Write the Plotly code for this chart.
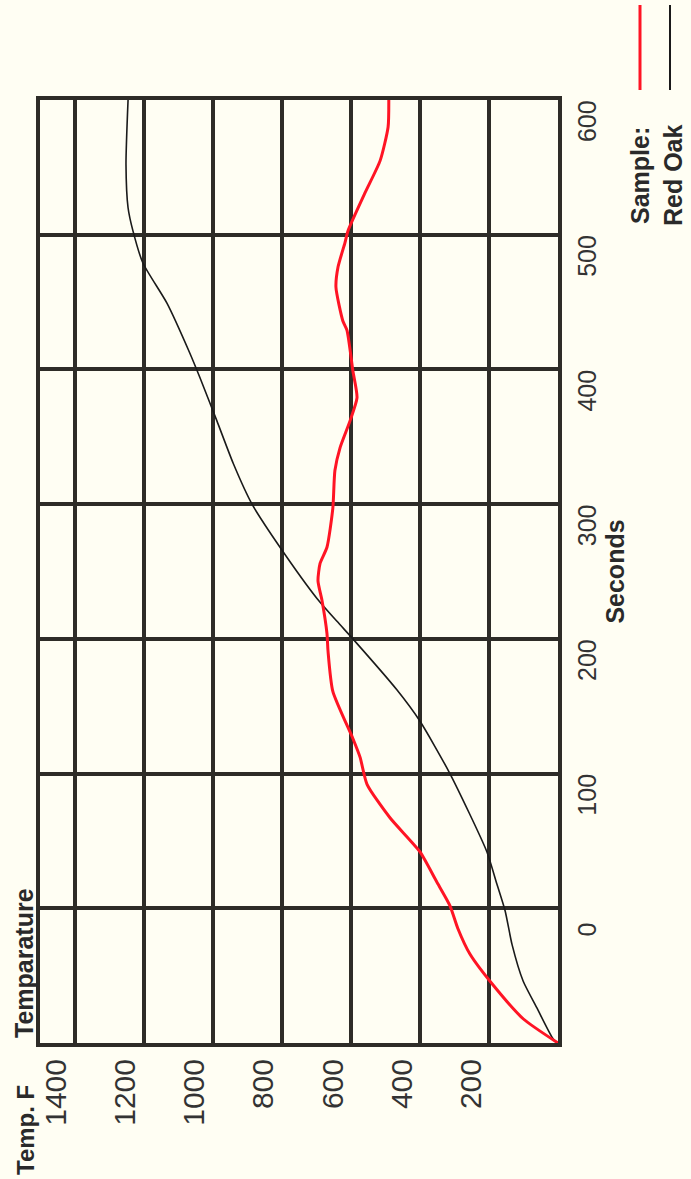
import plotly.graph_objects as go

# Red Oak (black) curve: seconds vs temperature (F)
oak_seconds = [-100, -97, -74, -54, -27, -2, 18, 42, 100, 139, 162, 200, 213, 230, 268, 300, 330, 362, 394, 412, 449, 479, 503, 520, 552, 600]
oak_temp =    [0, 14, 61, 101, 133, 153, 177, 206, 313, 400, 466, 594, 640, 698, 805, 886, 940, 988, 1037, 1066, 1132, 1202, 1231, 1245, 1251, 1245]

# Sample (red) curve
sample_seconds = [-100, -82, -57, -34, -15, 2, 20, 42, 67, 92, 112, 126, 161, 191, 204, 228, 243, 256, 268, 297, 325, 342, 362, 379, 399, 429, 436, 461, 476, 494, 503, 531, 555, 580, 600]
sample_temp =    [0, 101, 188, 255, 290, 313, 352, 400, 486, 553, 573, 594, 652, 666, 669, 683, 695, 689, 669, 652, 646, 631, 602, 582, 594, 611, 623, 643, 637, 617, 608, 559, 515, 492, 490]

temp_ticks = [200, 400, 600, 800, 1000, 1200, 1400]
sec_ticks = [0, 100, 200, 300, 400, 500, 600]

FONT = "Liberation Sans, Arial, sans-serif"
GRID = "#2e2c27"
BG = "#fffef3"

fig = go.Figure()
fig.add_trace(go.Scatter(x=oak_temp, y=oak_seconds, mode="lines", name="Red Oak",
                         line=dict(color="#1a1a1a", width=1.6, shape="spline", smoothing=0.6)))
fig.add_trace(go.Scatter(x=sample_temp, y=sample_seconds, mode="lines", name="Sample:",
                         line=dict(color="#ff1424", width=3, shape="spline", smoothing=0.6)))

fig.update_layout(
    width=691, height=1179,
    margin=dict(l=40, r=133, t=100, b=136),
    paper_bgcolor=BG, plot_bgcolor=BG,
    showlegend=False,
    font=dict(family=FONT, color="#2a2a2a"),
    xaxis=dict(range=[1500, 0], tickvals=temp_ticks, ticktext=[str(v) for v in temp_ticks],
               showgrid=True, gridcolor=GRID, gridwidth=4, zeroline=False,
               showline=True, mirror=True, linecolor=GRID, linewidth=4,
               ticks="", tickangle=-90, tickfont=dict(size=30, family=FONT, color="#333"),
               ticklabelshift=18, ticklabelstandoff=0),
    yaxis=dict(range=[-100, 600], tickvals=sec_ticks, ticktext=[str(v) for v in sec_ticks],
               side="right", showgrid=True, gridcolor=GRID, gridwidth=4, zeroline=False,
               showline=True, mirror=True, linecolor=GRID, linewidth=4,
               ticks="", tickangle=-90, tickfont=dict(size=25, family=FONT, color="#333"),
               ticklabelshift=25, ticklabelstandoff=4,
               title=dict(text="<b>Seconds</b>", font=dict(size=25, family=FONT, color="#2a2a2a"), standoff=2)),
)

def px(xp):
    return (xp - 40) / 518.0

def py(yp):
    return (1043 - yp) / 943.0

ann = [
    dict(text="<b>Temparature</b>", x=px(24), y=py(1040), xanchor="center", yanchor="bottom", size=25),
    dict(text="<b>Temp. F</b>", x=px(25), y=py(1083), xanchor="center", yanchor="top", size=24),
    dict(text="<b>Sample:</b>", x=px(640), y=py(176), xanchor="center", yanchor="middle", size=25),
    dict(text="<b>Red Oak</b>", x=px(673), y=py(175), xanchor="center", yanchor="middle", size=25),
]
for a in ann:
    size = a.pop("size")
    fig.add_annotation(xref="paper", yref="paper", showarrow=False, textangle=-90,
                       font=dict(size=size, family=FONT, color="#2a2a2a"), **a)

fig.add_shape(type="line", xref="paper", yref="paper", x0=px(640), x1=px(640), y0=py(5), y1=py(90),
              line=dict(color="#ff1424", width=3))
fig.add_shape(type="line", xref="paper", yref="paper", x0=px(670), x1=px(670), y0=py(5), y1=py(90),
              line=dict(color="#1a1a1a", width=2))

fig.write_html("out.html", config={"displayModeBar": False},
               post_script="document.body.style.margin='0';document.body.style.background='#fffef3';document.body.style.overflow='hidden';")
